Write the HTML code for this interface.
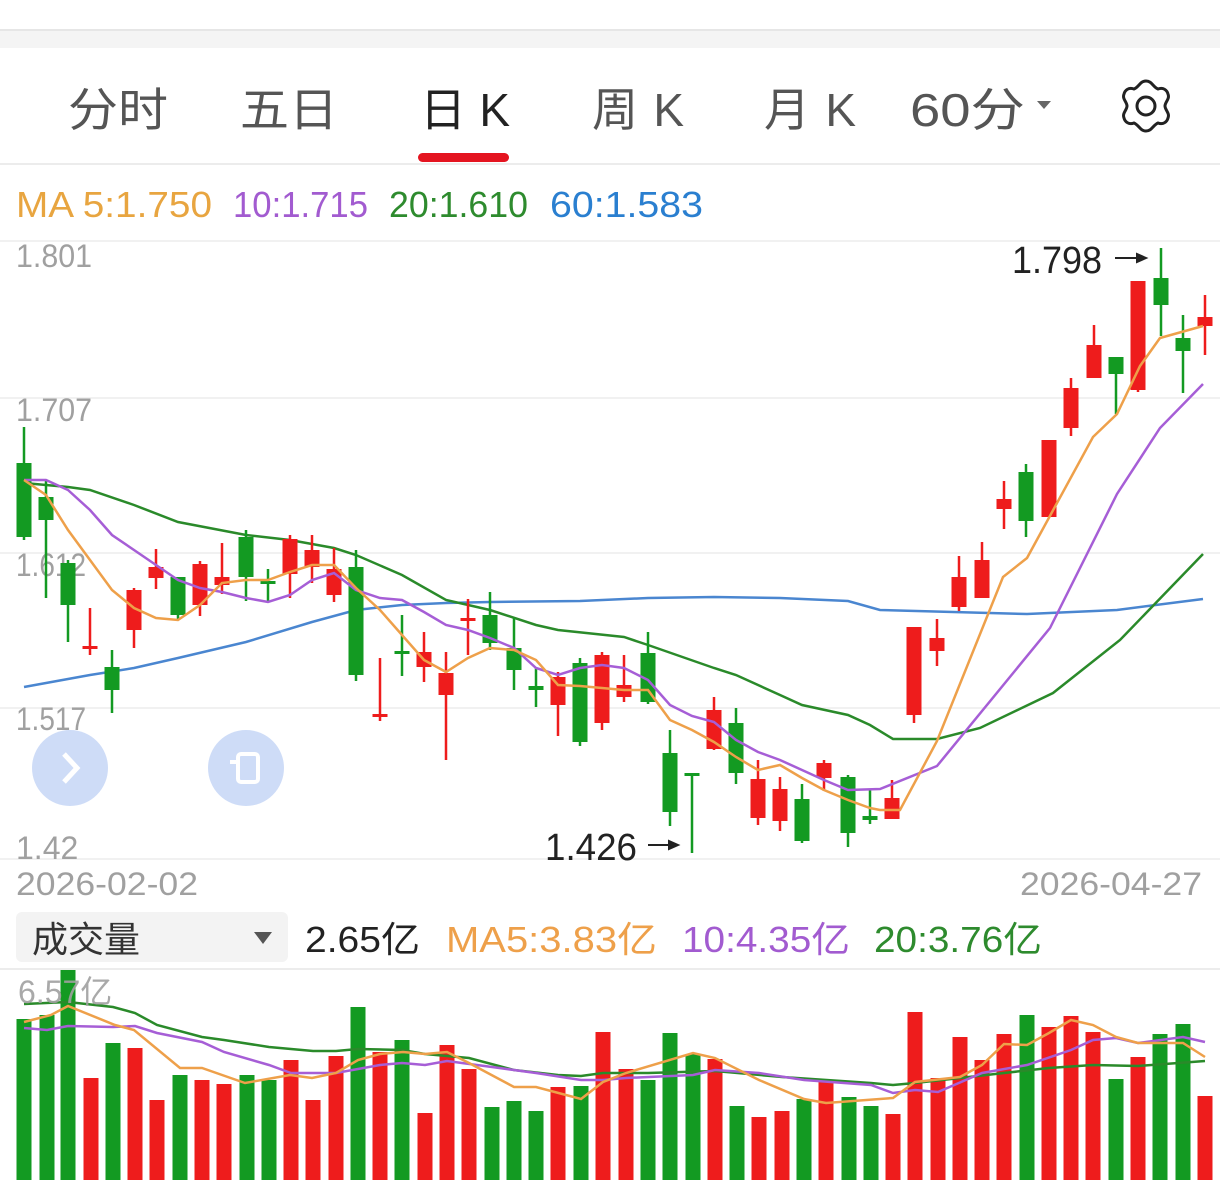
<!DOCTYPE html>
<html><head><meta charset="utf-8">
<style>
html,body{margin:0;padding:0;background:#fff;}
body{width:1220px;height:1184px;overflow:hidden;position:relative;font-family:"Liberation Sans","Noto Sans CJK SC",sans-serif;}
svg{position:absolute;left:0;top:0;}
.r{fill:#ee1c1c;stroke:#ee1c1c;}
.g{fill:#139a22;stroke:#139a22;}
line.r,line.g{stroke-width:2.5;}
rect.r,rect.g{stroke-width:0;}
</style></head><body>
<svg width="1220" height="1184" viewBox="0 0 1220 1184" xmlns="http://www.w3.org/2000/svg" font-family="Liberation Sans, Noto Sans CJK SC, sans-serif">
<rect x="0" y="30" width="1220" height="18" fill="#f4f4f4"/>
<line x1="0" y1="30" x2="1220" y2="30" stroke="#e6e6e6" stroke-width="2"/>
<g font-size="46" fill="#555">
<text x="68" y="126" textLength="100" lengthAdjust="spacingAndGlyphs">分时</text>
<text x="240" y="126" textLength="98" lengthAdjust="spacingAndGlyphs">五日</text>
<text x="420" y="126" fill="#222" textLength="90" lengthAdjust="spacing">日K</text>
<text x="592" y="126" textLength="92" lengthAdjust="spacing">周K</text>
<text x="764" y="126" textLength="92" lengthAdjust="spacing">月K</text>
<text x="910" y="126" textLength="115" lengthAdjust="spacingAndGlyphs">60分</text>
</g>
<polygon points="1037,101 1051,101 1044,109" fill="#666"/>
<rect x="418" y="153" width="91" height="9" rx="4.5" fill="#e41420"/>
<g transform="translate(1146,106)" fill="none" stroke="#222" stroke-width="3">
<path d="M0,-25 C6,-25 7,-19 12,-17 C17,-19 21,-16 22,-12 C24,-7 19,-4 19,0 C19,4 24,7 22,12 C21,16 17,19 12,17 C7,19 6,25 0,25 C-6,25 -7,19 -12,17 C-17,19 -21,16 -22,12 C-24,7 -19,4 -19,0 C-19,-4 -24,-7 -22,-12 C-21,-16 -17,-19 -12,-17 C-7,-19 -6,-25 0,-25 Z"/>
<circle r="9"/>
</g>
<line x1="0" y1="164" x2="1220" y2="164" stroke="#ececec" stroke-width="2"/>
<g font-size="36">
<text x="16" y="217" fill="#e8a540" textLength="196" lengthAdjust="spacingAndGlyphs">MA 5:1.750</text>
<text x="233" y="217" fill="#a25bd0" textLength="135" lengthAdjust="spacingAndGlyphs">10:1.715</text>
<text x="389" y="217" fill="#2e8b2e" textLength="139" lengthAdjust="spacingAndGlyphs">20:1.610</text>
<text x="550" y="217" fill="#2a7fd0" textLength="153" lengthAdjust="spacingAndGlyphs">60:1.583</text>
</g>
<g stroke="#f1f1f1" stroke-width="2">
<line x1="0" y1="241" x2="1220" y2="241"/>
<line x1="0" y1="398" x2="1220" y2="398"/>
<line x1="0" y1="553" x2="1220" y2="553"/>
<line x1="0" y1="708" x2="1220" y2="708"/>
<line x1="0" y1="859" x2="1220" y2="859"/>
</g>
<g font-size="32" fill="#a0a0a0">
<text x="16" y="267" textLength="76" lengthAdjust="spacingAndGlyphs">1.801</text>
<text x="16" y="421" textLength="76" lengthAdjust="spacingAndGlyphs">1.707</text>
<text x="16" y="576" textLength="70" lengthAdjust="spacingAndGlyphs">1.612</text>
<text x="16" y="730" textLength="70" lengthAdjust="spacingAndGlyphs">1.517</text>
<text x="16" y="859">1.42</text>
<text x="16" y="895" textLength="182" lengthAdjust="spacingAndGlyphs">2026-02-02</text>
<text x="1020" y="895" textLength="182" lengthAdjust="spacingAndGlyphs">2026-04-27</text>
</g>
<polyline fill="none" stroke="#4a86d0" stroke-width="2.5" points="24,687 90,675 134,668 178,658 246,642 312,622 356,610 402,605 446,603 490,602 580,601 648,598 714,597 780,598 848,601 880,610 1027,614 1117,610 1203,599"/>
<polyline fill="none" stroke="#2a8a2a" stroke-width="2.5" points="24,483 68,487 90,490 134,505 178,522 246,535 290,540 334,548 356,555 402,575 446,600 490,610 536,625 558,630 624,637 648,645 714,668 736,675 780,695 802,705 848,715 870,725 893,739 937,739 980,728 1053,693 1120,640 1203,554"/>
<g>
<line class="g" x1="24" y1="427" x2="24" y2="540"/><rect class="g" x="16.5" y="463" width="15" height="74"/>
<line class="g" x1="46" y1="480" x2="46" y2="598"/><rect class="g" x="38.5" y="497" width="15" height="23"/>
<line class="g" x1="68" y1="560" x2="68" y2="642"/><rect class="g" x="60.5" y="563" width="15" height="42"/>
<line class="r" x1="90" y1="608" x2="90" y2="655"/><rect class="r" x="82.5" y="646" width="15" height="3"/>
<line class="g" x1="112" y1="650" x2="112" y2="713"/><rect class="g" x="104.5" y="667" width="15" height="23"/>
<line class="r" x1="134" y1="588" x2="134" y2="648"/><rect class="r" x="126.5" y="590" width="15" height="40"/>
<line class="r" x1="156" y1="549" x2="156" y2="589"/><rect class="r" x="148.5" y="567" width="15" height="11"/>
<line class="g" x1="178" y1="577" x2="178" y2="620"/><rect class="g" x="170.5" y="577" width="15" height="38"/>
<line class="r" x1="200" y1="561" x2="200" y2="616"/><rect class="r" x="192.5" y="564" width="15" height="41"/>
<line class="r" x1="222" y1="543" x2="222" y2="594"/><rect class="r" x="214.5" y="577" width="15" height="8"/>
<line class="g" x1="246" y1="530" x2="246" y2="601"/><rect class="g" x="238.5" y="537" width="15" height="40"/>
<line class="g" x1="268" y1="569" x2="268" y2="601"/><rect class="g" x="260.5" y="581" width="15" height="3"/>
<line class="r" x1="290" y1="535" x2="290" y2="598"/><rect class="r" x="282.5" y="539" width="15" height="35"/>
<line class="r" x1="312" y1="535" x2="312" y2="583"/><rect class="r" x="304.5" y="550" width="15" height="17"/>
<line class="r" x1="334" y1="548" x2="334" y2="602"/><rect class="r" x="326.5" y="569" width="15" height="26"/>
<line class="g" x1="356" y1="550" x2="356" y2="681"/><rect class="g" x="348.5" y="567" width="15" height="108"/>
<line class="r" x1="380" y1="658" x2="380" y2="721"/><rect class="r" x="372.5" y="714" width="15" height="3"/>
<line class="g" x1="402" y1="615" x2="402" y2="676"/><rect class="g" x="394.5" y="651" width="15" height="3"/>
<line class="r" x1="424" y1="632" x2="424" y2="682"/><rect class="r" x="416.5" y="652" width="15" height="15"/>
<line class="r" x1="446" y1="652" x2="446" y2="760"/><rect class="r" x="438.5" y="673" width="15" height="22"/>
<line class="r" x1="468" y1="599" x2="468" y2="655"/><rect class="r" x="460.5" y="618" width="15" height="3"/>
<line class="g" x1="490" y1="592" x2="490" y2="650"/><rect class="g" x="482.5" y="615" width="15" height="28"/>
<line class="g" x1="514" y1="618" x2="514" y2="690"/><rect class="g" x="506.5" y="648" width="15" height="22"/>
<line class="g" x1="536" y1="667" x2="536" y2="707"/><rect class="g" x="528.5" y="686" width="15" height="4"/>
<line class="r" x1="558" y1="672" x2="558" y2="736"/><rect class="r" x="550.5" y="677" width="15" height="28"/>
<line class="g" x1="580" y1="658" x2="580" y2="746"/><rect class="g" x="572.5" y="663" width="15" height="79"/>
<line class="r" x1="602" y1="652" x2="602" y2="730"/><rect class="r" x="594.5" y="655" width="15" height="68"/>
<line class="r" x1="624" y1="655" x2="624" y2="702"/><rect class="r" x="616.5" y="685" width="15" height="12"/>
<line class="g" x1="648" y1="632" x2="648" y2="704"/><rect class="g" x="640.5" y="653" width="15" height="49"/>
<line class="g" x1="670" y1="730" x2="670" y2="826"/><rect class="g" x="662.5" y="753" width="15" height="59"/>
<line class="g" x1="692" y1="774" x2="692" y2="853"/><rect class="g" x="684.5" y="773" width="15" height="3"/>
<line class="r" x1="714" y1="697" x2="714" y2="750"/><rect class="r" x="706.5" y="710" width="15" height="39"/>
<line class="g" x1="736" y1="708" x2="736" y2="784"/><rect class="g" x="728.5" y="723" width="15" height="50"/>
<line class="r" x1="758" y1="760" x2="758" y2="825"/><rect class="r" x="750.5" y="779" width="15" height="39"/>
<line class="r" x1="780" y1="777" x2="780" y2="831"/><rect class="r" x="772.5" y="789" width="15" height="32"/>
<line class="g" x1="802" y1="784" x2="802" y2="843"/><rect class="g" x="794.5" y="799" width="15" height="42"/>
<line class="r" x1="824" y1="760" x2="824" y2="791"/><rect class="r" x="816.5" y="763" width="15" height="15"/>
<line class="g" x1="848" y1="775" x2="848" y2="847"/><rect class="g" x="840.5" y="777" width="15" height="56"/>
<line class="g" x1="870" y1="790" x2="870" y2="824"/><rect class="g" x="862.5" y="816" width="15" height="4"/>
<line class="r" x1="892" y1="780" x2="892" y2="819"/><rect class="r" x="884.5" y="798" width="15" height="21"/>
<line class="r" x1="914" y1="627" x2="914" y2="723"/><rect class="r" x="906.5" y="627" width="15" height="88"/>
<line class="r" x1="937" y1="619" x2="937" y2="666"/><rect class="r" x="929.5" y="638" width="15" height="13"/>
<line class="r" x1="959" y1="556" x2="959" y2="611"/><rect class="r" x="951.5" y="577" width="15" height="30"/>
<line class="r" x1="982" y1="542" x2="982" y2="598"/><rect class="r" x="974.5" y="560" width="15" height="38"/>
<line class="r" x1="1004" y1="481" x2="1004" y2="529"/><rect class="r" x="996.5" y="499" width="15" height="10"/>
<line class="g" x1="1026" y1="464" x2="1026" y2="537"/><rect class="g" x="1018.5" y="472" width="15" height="49"/>
<line class="r" x1="1049" y1="440" x2="1049" y2="517"/><rect class="r" x="1041.5" y="440" width="15" height="77"/>
<line class="r" x1="1071" y1="378" x2="1071" y2="436"/><rect class="r" x="1063.5" y="388" width="15" height="40"/>
<line class="r" x1="1094" y1="325" x2="1094" y2="378"/><rect class="r" x="1086.5" y="345" width="15" height="33"/>
<line class="g" x1="1116" y1="357" x2="1116" y2="414"/><rect class="g" x="1108.5" y="357" width="15" height="17"/>
<line class="r" x1="1138" y1="281" x2="1138" y2="392"/><rect class="r" x="1130.5" y="281" width="15" height="109"/>
<line class="g" x1="1161" y1="248" x2="1161" y2="336"/><rect class="g" x="1153.5" y="278" width="15" height="27"/>
<line class="g" x1="1183" y1="315" x2="1183" y2="393"/><rect class="g" x="1175.5" y="338" width="15" height="13"/>
<line class="r" x1="1205" y1="295" x2="1205" y2="355"/><rect class="r" x="1197.5" y="317" width="15" height="9"/>
</g>
<polyline fill="none" stroke="#a65ed6" stroke-width="2.5" points="24,480 46,480 68,490 90,510 112,535 134,550 156,565 178,580 200,588 222,592 246,598 268,602 290,595 312,580 334,573 356,590 380,598 402,600 424,612 446,625 468,630 490,638 514,648 536,668 558,675 580,668 602,665 624,668 648,680 670,705 692,716 714,722 736,740 758,752 780,760 802,770 824,780 848,790 880,789 937,766 1050,628 1117,494 1160,428 1203,384"/>
<polyline fill="none" stroke="#eea04a" stroke-width="2.5" points="24,480 46,495 68,530 90,560 112,590 134,608 156,618 178,620 200,605 222,583 246,580 268,580 290,572 312,565 334,565 356,588 380,610 402,635 424,660 446,672 468,658 490,648 514,650 536,660 558,685 580,686 602,688 624,690 648,690 670,720 692,730 714,742 736,757 758,770 780,765 802,778 824,790 848,800 870,808 880,810 900,810 937,741 1003,577 1027,558 1093,437 1117,414 1140,366 1160,338 1203,326"/>
<g font-size="38" fill="#222">
<text x="1012" y="273" textLength="90" lengthAdjust="spacingAndGlyphs">1.798</text>
<text x="545" y="860" textLength="92" lengthAdjust="spacingAndGlyphs">1.426</text>
</g>
<g stroke="#222" stroke-width="2" fill="#222">
<line x1="1115" y1="258" x2="1140" y2="258"/><polygon points="1146,258 1137,254 1137,262"/>
<line x1="648" y1="845" x2="672" y2="845"/><polygon points="678,845 669,841 669,849"/>
</g>
<circle cx="70" cy="768" r="38" fill="#c9d8f6" opacity="0.9"/>
<polyline points="64,754 77,768 64,782" fill="none" stroke="#fff" stroke-width="5"/>
<circle cx="246" cy="768" r="38" fill="#c9d8f6" opacity="0.9"/>
<rect x="238" y="754" width="20" height="28" rx="3" fill="none" stroke="#fff" stroke-width="4"/>
<line x1="230" y1="762" x2="238" y2="762" stroke="#fff" stroke-width="4"/>
<rect x="16" y="912" width="272" height="50" rx="6" fill="#f3f3f3"/>
<text x="32" y="952" font-size="36" fill="#333">成交量</text>
<polygon points="254,932 272,932 263,944" fill="#555"/>
<g font-size="36">
<text x="305" y="952" fill="#222" textLength="115" lengthAdjust="spacingAndGlyphs">2.65亿</text>
<text x="446" y="952" fill="#eea04a" textLength="211" lengthAdjust="spacingAndGlyphs">MA5:3.83亿</text>
<text x="682" y="952" fill="#a25bd0" textLength="168" lengthAdjust="spacingAndGlyphs">10:4.35亿</text>
<text x="874" y="952" fill="#2e8b2e" textLength="168" lengthAdjust="spacingAndGlyphs">20:3.76亿</text>
</g>
<line x1="0" y1="969" x2="1220" y2="969" stroke="#ececec" stroke-width="2"/>
<g>
<rect class="g" x="16.5" y="1019" width="15" height="161"/>
<rect class="g" x="39.5" y="1015" width="15" height="165"/>
<rect class="g" x="60.5" y="970" width="15" height="210"/>
<rect class="r" x="83.5" y="1078" width="15" height="102"/>
<rect class="g" x="105.5" y="1043" width="15" height="137"/>
<rect class="r" x="127.5" y="1048" width="15" height="132"/>
<rect class="r" x="149.5" y="1100" width="15" height="80"/>
<rect class="g" x="172.5" y="1075" width="15" height="105"/>
<rect class="r" x="194.5" y="1080" width="15" height="100"/>
<rect class="r" x="216.5" y="1084" width="15" height="96"/>
<rect class="g" x="239.5" y="1075" width="15" height="105"/>
<rect class="g" x="261.5" y="1080" width="15" height="100"/>
<rect class="r" x="283.5" y="1060" width="15" height="120"/>
<rect class="r" x="305.5" y="1100" width="15" height="80"/>
<rect class="r" x="328.5" y="1056" width="15" height="124"/>
<rect class="g" x="350.5" y="1007" width="15" height="173"/>
<rect class="r" x="372.5" y="1052" width="15" height="128"/>
<rect class="g" x="394.5" y="1040" width="15" height="140"/>
<rect class="r" x="417.5" y="1113" width="15" height="67"/>
<rect class="r" x="439.5" y="1045" width="15" height="135"/>
<rect class="r" x="461.5" y="1069" width="15" height="111"/>
<rect class="g" x="484.5" y="1107" width="15" height="73"/>
<rect class="g" x="506.5" y="1101" width="15" height="79"/>
<rect class="g" x="528.5" y="1111" width="15" height="69"/>
<rect class="r" x="550.5" y="1087" width="15" height="93"/>
<rect class="g" x="573.5" y="1086" width="15" height="94"/>
<rect class="r" x="595.5" y="1032" width="15" height="148"/>
<rect class="r" x="618.5" y="1069" width="15" height="111"/>
<rect class="g" x="640.5" y="1080" width="15" height="100"/>
<rect class="g" x="662.5" y="1033" width="15" height="147"/>
<rect class="g" x="685.5" y="1054" width="15" height="126"/>
<rect class="r" x="707.5" y="1059" width="15" height="121"/>
<rect class="g" x="729.5" y="1106" width="15" height="74"/>
<rect class="r" x="751.5" y="1117" width="15" height="63"/>
<rect class="r" x="774.5" y="1111" width="15" height="69"/>
<rect class="g" x="796.5" y="1099" width="15" height="81"/>
<rect class="r" x="818.5" y="1080" width="15" height="100"/>
<rect class="g" x="841.5" y="1097" width="15" height="83"/>
<rect class="g" x="863.5" y="1106" width="15" height="74"/>
<rect class="r" x="885.5" y="1114" width="15" height="66"/>
<rect class="r" x="907.5" y="1012" width="15" height="168"/>
<rect class="r" x="930.5" y="1078" width="15" height="102"/>
<rect class="r" x="952.5" y="1037" width="15" height="143"/>
<rect class="r" x="974.5" y="1060" width="15" height="120"/>
<rect class="r" x="996.5" y="1034" width="15" height="146"/>
<rect class="g" x="1019.5" y="1015" width="15" height="165"/>
<rect class="r" x="1041.5" y="1027" width="15" height="153"/>
<rect class="r" x="1063.5" y="1016" width="15" height="164"/>
<rect class="r" x="1085.5" y="1032" width="15" height="148"/>
<rect class="g" x="1108.5" y="1079" width="15" height="101"/>
<rect class="r" x="1130.5" y="1057" width="15" height="123"/>
<rect class="g" x="1152.5" y="1034" width="15" height="146"/>
<rect class="g" x="1175.5" y="1024" width="15" height="156"/>
<rect class="r" x="1197.5" y="1096" width="15" height="84"/>
</g>
<polyline fill="none" stroke="#2a8a2a" stroke-width="2.5" points="24,1004 68,1002 113,1007 135,1013 157,1025 202,1037 224,1040 269,1047 313,1051 336,1051 358,1049 402,1050 425,1054 469,1058 514,1070 558,1075 581,1076 603,1073 648,1073 715,1071 782,1077 871,1083 893,1085 915,1083 960,1078 1004,1073 1049,1068 1093,1065 1138,1066 1205,1061"/>
<polyline fill="none" stroke="#a65ed6" stroke-width="2.5" points="24,1028 47,1030 68,1026 113,1027 135,1026 157,1033 202,1042 224,1052 269,1065 291,1073 336,1073 380,1065 402,1063 425,1065 447,1061 492,1067 536,1073 581,1080 603,1080 626,1078 693,1075 715,1070 759,1073 804,1080 871,1085 893,1093 915,1090 938,1092 982,1073 1027,1065 1071,1050 1093,1040 1116,1038 1138,1043 1183,1037 1205,1042"/>
<polyline fill="none" stroke="#eea04a" stroke-width="2.5" points="24,1022 51,1015 68,1006 115,1025 134,1030 180,1068 202,1068 245,1083 290,1075 312,1078 336,1073 358,1060 380,1054 403,1052 425,1054 447,1052 469,1063 514,1087 536,1087 581,1099 603,1082 626,1073 693,1053 715,1058 759,1080 804,1099 826,1103 893,1098 915,1082 960,1077 982,1065 1004,1044 1027,1045 1049,1033 1071,1020 1093,1025 1116,1037 1138,1043 1183,1043 1205,1057"/>
<text x="18" y="1003" font-size="32" fill="#a0a0a0" opacity="0.9">6.57亿</text>
</svg>
</body></html>
